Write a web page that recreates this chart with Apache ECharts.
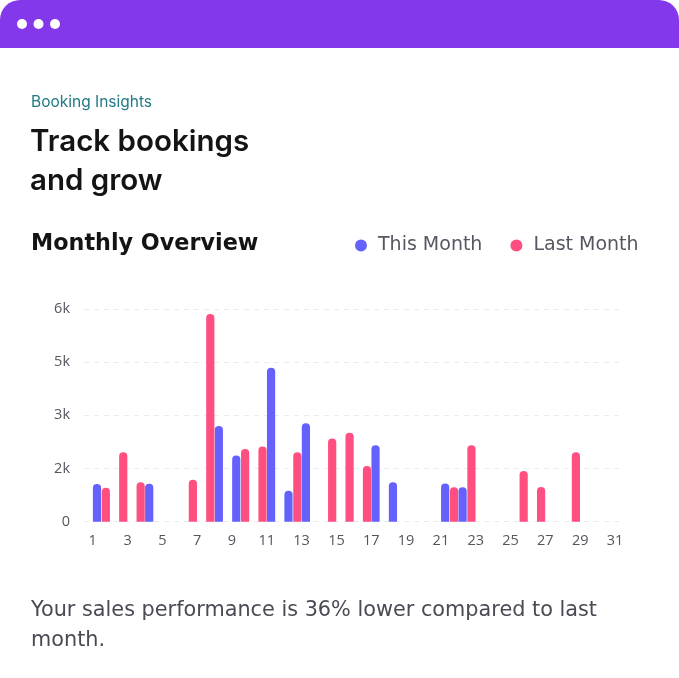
<!DOCTYPE html>
<html>
<head>
<meta charset="utf-8">
<script src="https://cdn.jsdelivr.net/npm/echarts@6/dist/echarts.min.js"></script>
<style>
html,body{margin:0;padding:0;background:#ffffff;}
#chart{width:679px;height:678px;}
</style>
</head>
<body>
<div id="chart"></div>
<script>
const days = ['1','2','3','4','5','6','7','8','9','10','11','12','13','14','15','16','17','18','19','20','21','22','23','24','25','26','27','28','29','30','31'];
const thisMonth = [1060,0,0,1070,0,0,0,2700,1870,0,4340,870,2780,0,0,0,2160,1110,0,0,1080,970,0,0,0,0,0,0,0,0,0];
const lastMonth = [960,1960,1110,0,0,1180,5860,0,2050,2120,0,1960,0,2350,2510,1570,0,0,0,0,970,2160,0,0,1430,980,0,1960,0,0,0];
const yTickLabels = ['0','2k','3k','5k','6k'];
const yStep = 1500;
const yMax = 6000;

const chart = echarts.init(document.getElementById('chart'), null, {renderer:'canvas'});
const FONT = 'Open Sans';
const WIDE = 'DejaVu Sans';
const gridTop = 309, gridH = 212.7, gridW = 539.7;

const option = {
  backgroundColor: '#ffffff',
  animation: false,
  textStyle: {fontFamily: FONT},
  graphic: [
    {type:'rect', shape:{x:0,y:0,width:679,height:48,r:[20,20,0,0]}, style:{fill:'#8438EC'}},
    {type:'circle', shape:{cx:22,cy:24,r:5}, style:{fill:'#ffffff'}},
    {type:'circle', shape:{cx:38.5,cy:24,r:5}, style:{fill:'#ffffff'}},
    {type:'circle', shape:{cx:55,cy:24,r:5}, style:{fill:'#ffffff'}},
    {type:'text', left:31, top:94, style:{text:'Booking Insights', font:'400 15.5px Inter', fill:'#217A84'}},
    {type:'text', left:30, top:127, style:{text:'Track bookings', font:'600 29.5px Inter', fill:'#141414'}},
    {type:'text', left:30, top:166, style:{text:'and grow', font:'600 29.5px Inter', fill:'#141414'}},
    {type:'text', left:31, top:233, style:{text:'Monthly Overview', font:'700 22.3px "DejaVu Sans"', fill:'#141414'}},
    {type:'text', left:31, top:600, style:{text:'Your sales performance is 36% lower compared to last', font:'400 20.8px "DejaVu Sans"', fill:'#4a4a55'}},
    {type:'text', left:31, top:630, style:{text:'month.', font:'400 20.8px "DejaVu Sans"', fill:'#4a4a55'}}
  ],
  legend: {
    left: 350, top: 231,
    icon: 'circle', itemWidth: 12, itemHeight: 12, itemGap: 28,
    textStyle: {fontSize: 19, color: '#575763', fontFamily: WIDE, padding:[0,0,0,6]},
    data: ['This Month','Last Month']
  },
  grid: [
    {left: 84, top: gridTop, width: gridW, height: gridH},
    {left: 92.7, top: gridTop, width: gridW, height: gridH}
  ],
  xAxis: [
    {type:'category', gridIndex:0, data: days, boundaryGap:true,
     axisLine:{show:false}, axisTick:{show:false},
     axisLabel:{interval:1, color:'#555560', fontSize:14.5, margin:12, fontFamily: FONT}},
    {type:'category', gridIndex:1, data: days, boundaryGap:true, show:false}
  ],
  yAxis: [
    {type:'value', gridIndex:0, min:0, max:yMax, interval:yStep,
     axisLine:{show:false}, axisTick:{show:false},
     axisLabel:{color:'#555560', fontSize:14.5, margin:14, fontFamily: FONT,
       formatter: v => yTickLabels[Math.round(v/yStep)]},
     splitLine:{lineStyle:{color:'#ebebeb', type:[5,5], width:1}}},
    {type:'value', gridIndex:1, min:0, max:yMax, interval:yStep, show:false, splitLine:{show:false}}
  ],
  series: [
    {name:'This Month', type:'bar', xAxisIndex:1, yAxisIndex:1, data: thisMonth,
     barWidth: 8.2, barGap:'8%', itemStyle:{color:'#6461FC', borderRadius:[4,4,0,0]}},
    {name:'Last Month', type:'bar', xAxisIndex:1, yAxisIndex:1, data: lastMonth,
     barWidth: 8.2, barGap:'8%', itemStyle:{color:'#FF4F80', borderRadius:[4,4,0,0]}}
  ]
};
chart.setOption(option);
</script>
</body>
</html>
